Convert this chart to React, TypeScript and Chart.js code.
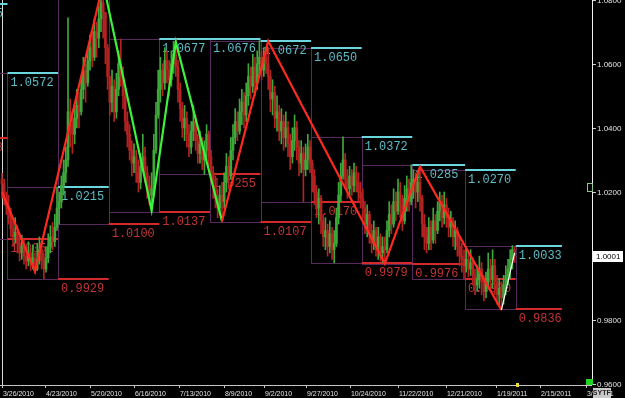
import React, { useEffect, useRef } from "react";
import { Chart, registerables } from "chart.js";

Chart.register(...registerables);

// ---------------- data (USD/CAD daily bars, 26 Mar 2010 – end Jan 2011) ----------------
const firstOpen = 1.024;

const closes = [
  // late Mar
  1.0225, 1.018, 1.0155,
  // Apr
  1.012, 1.0085, 1.006, 1.0075, 1.004, 1.001, 1.003, 1.0, 0.9985, 1.001, 0.9975, 0.9995, 0.996, 0.999, 1.002, 0.9985, 0.996, 0.9995, 1.003, 1.006, 1.0045, 1.009, 1.015,
  // May
  1.017, 1.022, 1.026, 1.03, 1.045, 1.041, 1.038, 1.043, 1.047, 1.045, 1.052, 1.058, 1.054, 1.061, 1.065, 1.062, 1.07, 1.068, 1.074, 1.079, 1.076, 1.065, 1.056,
  // Jun
  1.048, 1.053, 1.045, 1.052, 1.06, 1.056, 1.05, 1.042, 1.038, 1.033, 1.029, 1.031, 1.026, 1.023, 1.028, 1.031, 1.026, 1.022, 1.019, 1.021, 1.033, 1.044, 1.052,
  // Jul
  1.058, 1.054, 1.061, 1.058, 1.055, 1.06, 1.063, 1.059, 1.052, 1.046, 1.04, 1.043, 1.038, 1.034, 1.039, 1.042, 1.036, 1.032, 1.035, 1.03, 1.033, 1.038, 1.031,
  // Aug
  1.026, 1.022, 1.018, 1.015, 1.019, 1.017, 1.023, 1.028, 1.025, 1.033, 1.037, 1.042, 1.039, 1.045, 1.048, 1.044, 1.05, 1.056, 1.053, 1.059, 1.054, 1.06, 1.062,
  // Sep
  1.058, 1.062, 1.06, 1.056, 1.049, 1.051, 1.043, 1.045, 1.039, 1.042, 1.037, 1.04, 1.035, 1.031, 1.036, 1.04, 1.034, 1.029, 1.032, 1.027, 1.03, 1.034, 1.029,
  // Oct
  1.025, 1.02, 1.015, 1.018, 1.011, 1.006, 1.008, 1.003, 1.007, 1.002, 1.004, 1.012, 1.019, 1.025, 1.03, 1.024, 1.021, 1.025, 1.022, 1.026, 1.023, 1.02, 1.018,
  // Nov
  1.015, 1.01, 1.013, 1.007, 1.004, 1.008, 1.003, 1.006, 1.001, 1.003, 1.002, 1.008, 1.013, 1.01, 1.017, 1.014, 1.02, 1.016, 1.011, 1.018, 1.021, 1.017, 1.023,
  // Dec
  1.024, 1.02, 1.023, 1.018, 1.01, 1.006, 1.004, 1.009, 1.005, 1.011, 1.008, 1.014, 1.017, 1.012, 1.016, 1.013, 1.009, 1.011, 1.006, 1.008, 1.003, 1.0, 0.999, 0.997,
  // Jan
  0.999, 0.996, 0.998, 0.994, 0.991, 0.993, 0.996, 0.992, 0.989, 0.992, 0.996, 0.993, 0.997, 0.992, 0.988, 0.99, 0.987, 0.991, 0.994, 0.996, 0.999, 1.002, 1.0001,
];

const highs = [
  1.0258, 1.024, 1.02,
  1.019, 1.015, 1.011, 1.012, 1.0095, 1.007, 1.0065, 1.005, 1.003, 1.0045, 1.0025, 1.0035, 1.001, 1.004, 1.006, 1.0045, 1.001, 1.003, 1.007, 1.0095, 1.0105, 1.013, 1.0215,
  1.02, 1.025, 1.03, 1.034, 1.0743, 1.049, 1.045, 1.047, 1.052, 1.051, 1.056, 1.062, 1.06, 1.065, 1.069, 1.07, 1.074, 1.073, 1.078, 1.082, 1.085, 1.076, 1.066,
  1.056, 1.058, 1.055, 1.057, 1.064, 1.0677, 1.059, 1.052, 1.045, 1.041, 1.036, 1.035, 1.033, 1.03, 1.032, 1.038, 1.034, 1.028, 1.025, 1.026, 1.038, 1.048, 1.058,
  1.062, 1.06, 1.065, 1.064, 1.061, 1.064, 1.067, 1.0676, 1.061, 1.054, 1.048, 1.047, 1.045, 1.041, 1.042, 1.047, 1.044, 1.038, 1.039, 1.037, 1.036, 1.041, 1.039,
  1.033, 1.028, 1.025, 1.021, 1.022, 1.023, 1.026, 1.032, 1.031, 1.037, 1.041, 1.046, 1.045, 1.049, 1.052, 1.051, 1.054, 1.06, 1.059, 1.063, 1.062, 1.064, 1.0672,
  1.064, 1.065, 1.0645, 1.065, 1.058, 1.055, 1.053, 1.05, 1.047, 1.046, 1.044, 1.045, 1.042, 1.038, 1.04, 1.044, 1.042, 1.036, 1.036, 1.034, 1.035, 1.038, 1.036,
  1.03, 1.027, 1.022, 1.021, 1.019, 1.013, 1.012, 1.01, 1.011, 1.009, 1.008, 1.015, 1.023, 1.029, 1.0372, 1.032, 1.027, 1.028, 1.027, 1.029, 1.028, 1.026, 1.023,
  1.021, 1.017, 1.016, 1.014, 1.01, 1.011, 1.009, 1.009, 1.007, 1.006, 1.006, 1.011, 1.017, 1.016, 1.021, 1.02, 1.024, 1.023, 1.019, 1.022, 1.025, 1.024, 1.0285,
  1.027, 1.026, 1.026, 1.027, 1.019, 1.013, 1.009, 1.012, 1.011, 1.015, 1.013, 1.017, 1.02, 1.019, 1.02, 1.018, 1.015, 1.014, 1.012, 1.011, 1.009, 1.006, 1.004, 1.002,
  1.003, 1.001, 1.002, 0.9995, 0.996, 0.997, 1.0, 0.998, 0.994, 0.995, 1.001, 0.999, 1.002, 0.999, 0.994, 0.993, 0.992, 0.994, 0.997, 0.999, 1.002, 1.0033, 1.003,
];

const lows = [
  1.018, 1.016, 1.013,
  1.01, 1.006, 1.003, 1.004, 1.001, 0.9985, 0.999, 0.9975, 0.996, 0.997, 0.9955, 0.996, 0.9945, 0.9955, 0.9975, 0.996, 0.9929, 0.995, 0.998, 1.001, 1.002, 1.003, 1.008,
  1.01, 1.015, 1.019, 1.023, 1.028, 1.034, 1.032, 1.035, 1.04, 1.04, 1.044, 1.049, 1.048, 1.053, 1.058, 1.059, 1.061, 1.062, 1.065, 1.07, 1.068, 1.06, 1.052,
  1.044, 1.045, 1.042, 1.043, 1.05, 1.053, 1.046, 1.039, 1.034, 1.03, 1.025, 1.026, 1.023, 1.02, 1.021, 1.027, 1.023, 1.018, 1.016, 1.0137, 1.02, 1.032, 1.043,
  1.048, 1.05, 1.052, 1.054, 1.05, 1.053, 1.057, 1.056, 1.048, 1.042, 1.037, 1.036, 1.034, 1.031, 1.032, 1.036, 1.033, 1.029, 1.029, 1.027, 1.0255, 1.03, 1.028,
  1.023, 1.018, 1.015, 1.012, 1.013, 1.0107, 1.015, 1.02, 1.021, 1.024, 1.03, 1.035, 1.036, 1.038, 1.041, 1.04, 1.042, 1.047, 1.049, 1.051, 1.05, 1.052, 1.056,
  1.055, 1.056, 1.057, 1.052, 1.045, 1.044, 1.04, 1.039, 1.036, 1.035, 1.033, 1.034, 1.031, 1.027, 1.029, 1.033, 1.03, 1.025, 1.026, 1.017, 1.025, 1.027, 1.026,
  1.02, 1.016, 1.012, 1.01, 1.007, 1.003, 1.002, 1.0, 1.001, 0.999, 0.9979, 1.003, 1.01, 1.017, 1.024, 1.021, 1.018, 1.019, 1.019, 1.02, 1.02, 1.017, 1.015,
  1.012, 1.007, 1.006, 1.004, 1.001, 1.002, 1.0, 0.999, 0.9985, 0.998, 0.9976, 1.001, 1.006, 1.007, 1.009, 1.011, 1.013, 1.012, 1.008, 1.01, 1.014, 1.014, 1.016,
  1.018, 1.015, 1.017, 1.014, 1.006, 1.002, 1.001, 1.002, 1.002, 1.004, 1.004, 1.007, 1.011, 1.009, 1.01, 1.009, 1.006, 1.006, 1.003, 1.002, 1.0, 0.997, 0.995, 0.993,
  0.995, 0.9935, 0.994, 0.991, 0.988, 0.989, 0.99, 0.988, 0.986, 0.987, 0.99, 0.989, 0.99, 0.988, 0.985, 0.9845, 0.9836, 0.985, 0.988, 0.991, 0.993, 0.996, 0.998,
];

// zigzag pivots (bar index / price) and colour / width of each leg
const zigzagIndex = [0, 15, 46, 68, 79, 100, 121, 174, 190, 227, 233];
const zigzagValue = [1.02, 0.9952, 1.085, 1.0143, 1.0668, 1.0109, 1.0671, 0.9977, 1.0279, 0.9832, 1.001];
const zigzagLegColor = ["#ff2a1f", "#ff2a1f", "#3cf23c", "#3cf23c", "#3cf23c", "#ff2a1f", "#ff2a1f", "#ff2a1f", "#ff2a1f", "#ffffff"];
const zigzagLegWidth = [2.2, 2.2, 2.2, 2.2, 2.2, 2.2, 2.2, 2.2, 2.2, 1.2];

// monthly periods (Feb 2010 … Feb 2011) in bar-index units, with each month's high / low
const periodStart = [-40.5, -20.5, 2.5, 25.5, 48.5, 71.5, 94.5, 117.5, 140.5, 163.5, 186.5, 210.5, 233.5];
const periodEnd = [-20.5, 2.5, 25.5, 48.5, 71.5, 94.5, 117.5, 140.5, 163.5, 186.5, 210.5, 233.5, 254.5];
const periodHigh = [1.0785, 1.0572, 1.0215, 1.085, 1.0677, 1.0676, 1.0672, 1.065, 1.0372, 1.0285, 1.027, 1.0033, null];
const periodLow = [1.0368, 1.0052, 0.9929, 1.01, 1.0137, 1.0255, 1.0107, 1.017, 0.9979, 0.9976, 0.993, 0.9836, null];

const xTickIndex = [0, 19.5, 40, 60, 80.5, 101, 119, 138, 158, 180, 202, 224.5, 244.5, 265.5];
const xTickLabels = [
  "3/26/2010", "4/23/2010", "5/20/2010", "6/16/2010", "7/13/2010", "8/9/2010", "9/2/2010",
  "9/27/2010", "10/24/2010", "11/22/2010", "12/21/2010", "1/19/2011", "2/15/2011", "3/1/2011",
];
const yTickValues = [1.08, 1.06, 1.04, 1.02, 1.0, 0.98, 0.96];
const lastPrice = 1.0001;

const X_MIN = -0.909;
const X_MAX = 268.18;
const Y_MIN = 0.95982;
const Y_MAX = 1.07987;

// ---------------- styles ----------------
const UP = "#3fa83a";
const DOWN = "#b52222";
const BOX = "#57295f";
const CYAN_LINE = "#6cd6de";
const CYAN_TEXT = "#5ebcc6";
const RED_LINE = "#d42a2a";
const RED_TEXT = "#c23434";
const AXIS_TEXT = "#e2e2e2";
const LEVEL_FONT = '13px "Liberation Mono", "DejaVu Sans Mono", monospace';
const AXIS_FONT = '8px "Liberation Sans", Arial, sans-serif';

const opens = closes.map((_, i) => (i === 0 ? firstOpen : closes[i - 1]));
const barColors = closes.map((c, i) => (c >= opens[i] ? UP : DOWN));

const overlayPlugin = {
  id: "fxOverlay",
  beforeDatasetsDraw(chart: any) {
    const { ctx, chartArea: a, scales } = chart;
    const xs = scales.x;
    const ys = scales.y;
    ctx.save();
    ctx.beginPath();
    ctx.rect(a.left, a.top, a.right - a.left, a.bottom - a.top);
    ctx.clip();

    // left period marker line
    ctx.strokeStyle = "#d8d8d8";
    ctx.lineWidth = 1;
    const lx = Math.round(xs.getPixelForValue(0)) + 0.5;
    ctx.beginPath();
    ctx.moveTo(lx, a.top);
    ctx.lineTo(lx, a.bottom);
    ctx.stroke();

    // monthly range boxes
    ctx.strokeStyle = BOX;
    ctx.lineWidth = 1;
    for (let k = 0; k < periodStart.length; k++) {
      const hi = periodHigh[k];
      const lo = periodLow[k];
      if (hi == null || lo == null) continue;
      const x0 = Math.round(xs.getPixelForValue(periodStart[k])) + 0.5;
      const x1 = Math.round(xs.getPixelForValue(periodEnd[k])) + 0.5;
      const y0 = Math.round(ys.getPixelForValue(hi)) + 0.5;
      const y1 = Math.round(ys.getPixelForValue(lo)) + 0.5;
      ctx.strokeRect(x0, y0, x1 - x0, y1 - y0);
    }

    // previous month's high / low projected over each month
    ctx.font = LEVEL_FONT;
    ctx.textBaseline = "top";
    ctx.textAlign = "left";
    for (let k = 1; k < periodStart.length; k++) {
      const x0 = xs.getPixelForValue(periodStart[k]);
      const x1 = xs.getPixelForValue(periodEnd[k]);
      const levels: [number | null, string, string][] = [
        [periodHigh[k - 1], CYAN_LINE, CYAN_TEXT],
        [periodLow[k - 1], RED_LINE, RED_TEXT],
      ];
      for (const [v, lc, tc] of levels) {
        if (v == null) continue;
        const py = Math.round(ys.getPixelForValue(v));
        ctx.strokeStyle = lc;
        ctx.lineWidth = 2;
        ctx.beginPath();
        ctx.moveTo(x0, py);
        ctx.lineTo(x1, py);
        ctx.stroke();
        ctx.fillStyle = tc;
        ctx.save();
        ctx.translate(x0 + 3, py + 3);
        ctx.scale(0.92, 1.05);
        ctx.fillText(v.toFixed(4), 0, 0);
        ctx.restore();
      }
    }
    ctx.restore();
  },
  afterDraw(chart: any) {
    const { ctx, chartArea: a, scales } = chart;
    const xs = scales.x;
    const ys = scales.y;
    ctx.save();

    // x axis
    ctx.strokeStyle = "#c4c4c4";
    ctx.lineWidth = 1;
    ctx.beginPath();
    ctx.moveTo(0, a.bottom + 0.5);
    ctx.lineTo(a.right, a.bottom + 0.5);
    ctx.stroke();
    ctx.font = AXIS_FONT;
    ctx.fillStyle = AXIS_TEXT;
    ctx.textBaseline = "alphabetic";
    ctx.textAlign = "left";
    xTickIndex.forEach((t, k) => {
      const px = Math.round(xs.getPixelForValue(t)) + 0.5;
      ctx.beginPath();
      ctx.moveTo(px, a.bottom);
      ctx.lineTo(px, a.bottom + 3);
      ctx.stroke();
      ctx.save();
      ctx.translate(px + 0.5, a.bottom + 10.5);
      ctx.scale(0.87, 1);
      ctx.fillText(xTickLabels[k], 0, 0);
      ctx.restore();
    });

    // current-bar marker on the time axis
    const lastX = xs.getPixelForValue(closes.length - 1);
    ctx.fillStyle = "#e6dc3c";
    ctx.fillRect(Math.round(lastX) + 1, a.bottom - 2, 3, 4);

    // y axis
    ctx.strokeStyle = "#f2f2f2";
    ctx.beginPath();
    ctx.moveTo(a.right + 0.5, 0);
    ctx.lineTo(a.right + 0.5, a.bottom);
    ctx.stroke();
    ctx.fillStyle = AXIS_TEXT;
    ctx.textBaseline = "middle";
    yTickValues.forEach((v) => {
      const py = Math.round(ys.getPixelForValue(v)) + 0.5;
      ctx.strokeStyle = "#cfcfcf";
      ctx.beginPath();
      ctx.moveTo(a.right + 1, py);
      ctx.lineTo(a.right + 4, py);
      ctx.stroke();
      ctx.fillText(v.toFixed(4), a.right + 5, py);
    });

    // last price tag
    const lp = ys.getPixelForValue(lastPrice);
    ctx.fillStyle = "#ffffff";
    ctx.fillRect(a.right + 1, Math.round(lp) - 5, 30, 11);
    ctx.fillStyle = "#000000";
    ctx.fillText(lastPrice.toFixed(4), a.right + 4, Math.round(lp) + 0.5);

    // small indicator squares near the price axis
    ctx.strokeStyle = "#8fc48f";
    ctx.strokeRect(a.right - 4.5, Math.round(ys.getPixelForValue(1.0228)) + 0.5, 5, 8);
    ctx.fillStyle = "#22d422";
    ctx.fillRect(a.right - 6, a.bottom - 6, 7, 6);

    // SY / TF buttons
    ctx.font = 'bold 7px "Liberation Sans", Arial, sans-serif';
    ctx.textAlign = "center";
    [["SY", a.right + 1], ["TF", a.right + 10]].forEach(([t, bx]: any) => {
      ctx.fillStyle = "#c9c9c9";
      ctx.fillRect(bx, a.bottom + 3, 9, 10);
      ctx.fillStyle = "#222";
      ctx.fillText(t, bx + 4.5, a.bottom + 8.5);
    });
    ctx.restore();
  },
};

export default function App() {
  const canvasRef = useRef<HTMLCanvasElement>(null);

  useEffect(() => {
    document.body.style.margin = "0";
    document.body.style.background = "#000";
    const canvas = canvasRef.current;
    if (!canvas) return;

    const wickData = closes.map((_, i) => ({ x: i, y: [lows[i], highs[i]] }));
    const bodyData = closes.map((c, i) => ({ x: i, y: [opens[i], c] }));
    const zigzagData = zigzagIndex.map((x, k) => ({ x, y: zigzagValue[k] }));

    const chart = new Chart(canvas, {
      type: "bar",
      data: {
        datasets: [
          {
            type: "line",
            data: zigzagData as any,
            borderColor: "#ff2a1f",
            borderWidth: 2.2,
            pointRadius: 0,
            tension: 0,
            segment: {
              borderColor: (c: any) => zigzagLegColor[c.p0DataIndex],
              borderWidth: (c: any) => zigzagLegWidth[c.p0DataIndex],
            },
            order: 0,
          } as any,
          {
            type: "bar",
            data: bodyData as any,
            backgroundColor: barColors,
            borderWidth: 0,
            barThickness: 2,
            grouped: false,
            minBarLength: 1,
            order: 1,
          } as any,
          {
            type: "bar",
            data: wickData as any,
            backgroundColor: barColors,
            borderWidth: 0,
            barThickness: 1,
            grouped: false,
            order: 2,
          } as any,
        ],
      },
      options: {
        responsive: false,
        animation: false,
        events: [],
        devicePixelRatio: 1,
        layout: { padding: { left: 0, top: 0, right: 33, bottom: 13 } },
        plugins: { legend: { display: false }, tooltip: { enabled: false } },
        scales: {
          x: { type: "linear", min: X_MIN, max: X_MAX, display: false, offset: false },
          y: { type: "linear", min: Y_MIN, max: Y_MAX, display: false },
        },
      } as any,
      plugins: [overlayPlugin],
    });
    return () => chart.destroy();
  }, []);

  return (
    <div style={{ width: 625, height: 398, background: "#000" }}>
      <canvas ref={canvasRef} width={625} height={398} style={{ display: "block" }} />
    </div>
  );
}
